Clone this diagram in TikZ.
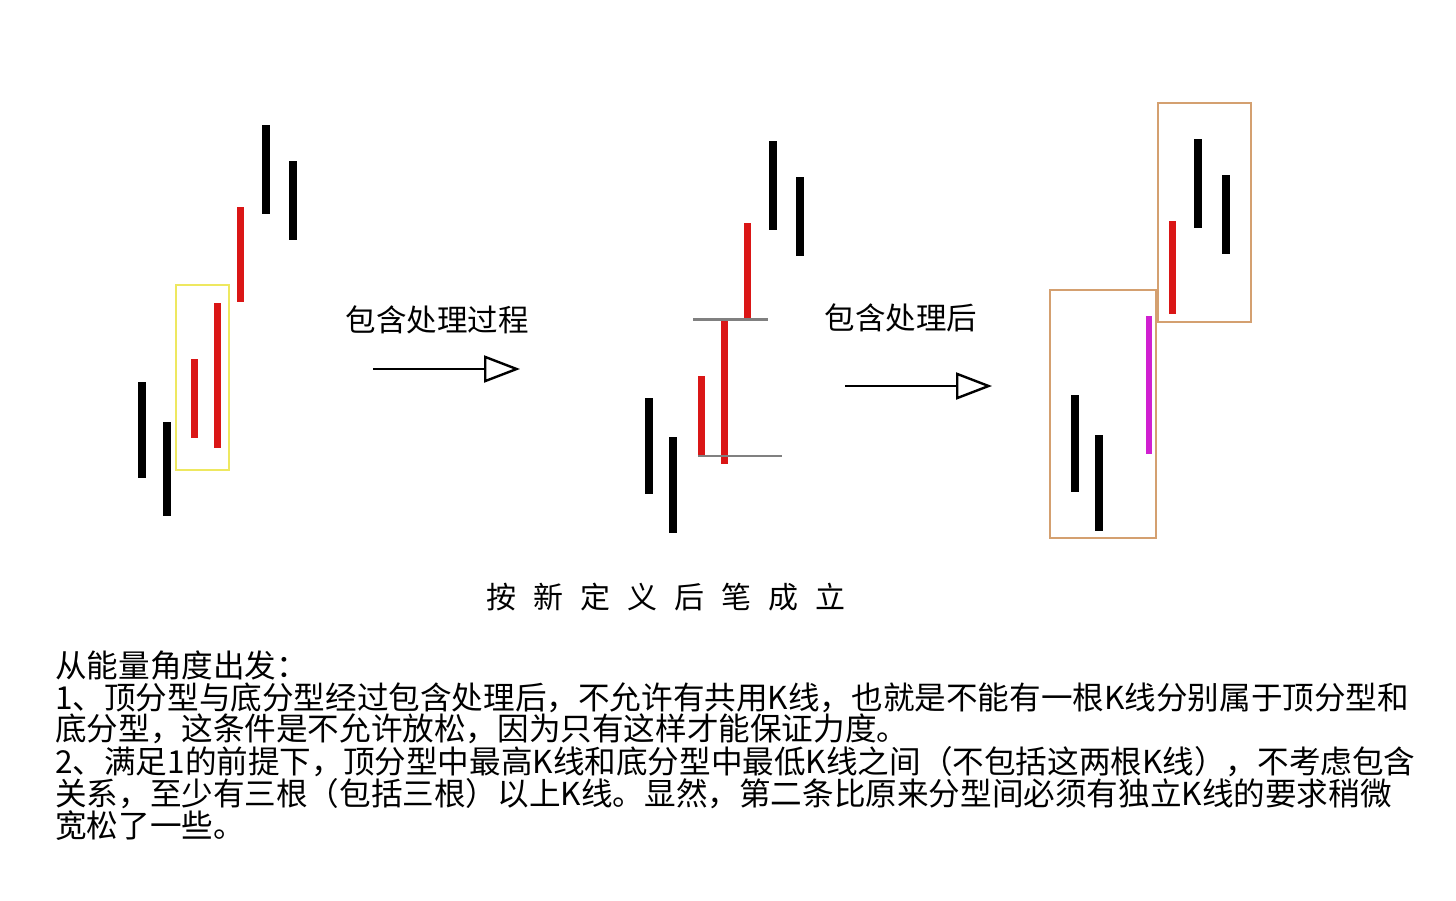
\documentclass[tikz,border=0pt]{standalone}
\usepackage{fontspec}
\newfontfamily\cjk{Noto Sans CJK SC}
\usetikzlibrary{arrows.meta}
\definecolor{kred}{RGB}{218,22,22}
\definecolor{kmag}{RGB}{208,32,208}
\definecolor{kbox}{RGB}{212,160,112}
\definecolor{kyel}{RGB}{238,232,96}
\definecolor{kgray}{RGB}{128,128,128}
\tikzset{
  kbar/.style={line width=8pt},
  rbar/.style={line width=7pt,kred},
  flow/.style={line width=2.2pt,-{Triangle[open,length=36pt,width=27pt,line width=2.4pt]}},
  cjklab/.style={font=\cjk\fontsize{30.5}{30}\selectfont,inner sep=0pt},
  titlelab/.style={cjklab,font={\cjk\fontsize{30}{30}\selectfont\spaceskip=17pt\relax}},
  bodytxt/.style={font=\cjk\fontsize{31.6}{32}\selectfont,inner sep=0pt,anchor=west},
}
\begin{document}
\begin{tikzpicture}[x=1pt,y=-1pt]
  \useasboundingbox[fill=white] (0,0) rectangle (1456,900);
  % panel 1: before
  \foreach \x/\ya/\yb in {142/382/478,167/422/516,266/125/214,293/161/240}
    \draw[kbar] (\x,\ya) -- (\x,\yb);
  \foreach \x/\ya/\yb in {194/359/438,217/303/448,240/207/302}
    \draw[rbar] (\x,\ya) -- (\x,\yb);
  \draw[kyel,line width=1.5pt] (176,285) rectangle (229,470);
  % arrow 1
  \coordinate (a1s) at (373,369);
  \coordinate (a1e) at (520,369);
  \draw[flow] (a1s) -- (a1e);
  \node[cjklab] (lab1) at (437,320) {包含处理过程};
  % panel 2: merging
  \foreach \x/\ya/\yb in {649/398/494,673/437/533,773/141/230,800/177/256}
    \draw[kbar] (\x,\ya) -- (\x,\yb);
  \foreach \x/\ya/\yb in {701/376/455,724/320/464,747/223/318}
    \draw[rbar] (\x,\ya) -- (\x,\yb);
  \draw[kgray,line width=3pt] (693,319) -- (768,319);
  \draw[kgray,line width=1.4pt] (698,456) -- (782,456);
  % arrow 2
  \coordinate (a2s) at (845,386);
  \coordinate (a2e) at (992,386);
  \draw[flow] (a2s) -- (a2e);
  \node[cjklab] (lab2) at (901,318) {包含处理后};
  % panel 3: after
  \draw[kbox,line width=1.5pt] (1050,290) rectangle (1156,538);
  \draw[kbox,line width=1.5pt] (1158,103) rectangle (1251,322);
  \foreach \x/\ya/\yb in {1075/395/492,1099/435/531,1198/139/228,1226/175/254}
    \draw[kbar] (\x,\ya) -- (\x,\yb);
  \draw[rbar] (1172,221) -- (1172,314);
  \draw[kmag,line width=6pt] (1149,316) -- (1149,454);
  \node[titlelab] (title) at (666,597) {按 新 定 义 后 笔 成 立};
  % notes
  \foreach \i/\y/\txt in {
    1/666/{从能量角度出发：},
    2/698/{1、顶分型与底分型经过包含处理后，不允许有共用K线，也就是不能有一根K线分别属于顶分型和},
    3/729/{底分型，这条件是不允许放松，因为只有这样才能保证力度。},
    4/762/{2、满足1的前提下，顶分型中最高K线和底分型中最低K线之间（不包括这两根K线），不考虑包含},
    5/794/{关系，至少有三根（包括三根）以上K线。显然，第二条比原来分型间必须有独立K线的要求稍微},
    6/826/{宽松了一些。}}
    \node[bodytxt] (line\i) at (55,\y) {\txt};
\end{tikzpicture}
\end{document}
